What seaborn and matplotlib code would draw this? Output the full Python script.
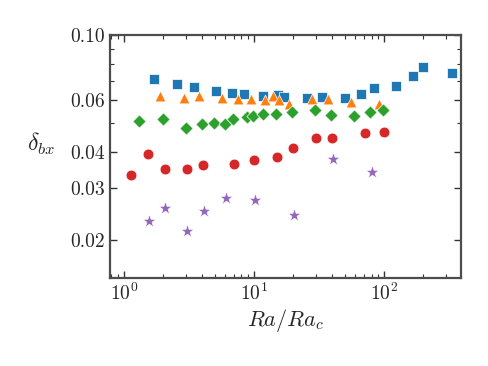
import matplotlib
matplotlib.use("Agg")
import matplotlib.pyplot as plt
import matplotlib.ticker as mticker
import seaborn as sns
import pandas as pd

# data
blue_x = [1.71, 2.57, 3.44, 5.1, 6.81, 8.42, 11.8, 15.2, 17.1, 25.3, 33.5, 50.1, 66.9, 83.3, 124, 165, 197, 329]
blue_y = [0.0708, 0.068, 0.0663, 0.0644, 0.0634, 0.0632, 0.0618, 0.0624, 0.0614, 0.0611, 0.0613, 0.0611,
          0.0632, 0.0658, 0.0671, 0.0725, 0.0778, 0.0742]

orange_x = [1.90, 2.88, 3.80, 5.67, 7.53, 9.43, 12.2, 14.1, 15.6, 18.7, 27.9, 37.3, 55.4, 92]
orange_y = [0.0618, 0.061, 0.0622, 0.0611, 0.0607, 0.0607, 0.0602, 0.062, 0.0602, 0.0583, 0.0607, 0.0607,
            0.0592, 0.058]

green_x = [1.31, 2.0, 3.0, 3.98, 4.95, 5.95, 6.93, 8.84, 9.82, 11.8, 14.8, 19.5, 29.5, 38.9, 58.8, 78, 97.7]
green_y = [0.0508, 0.0516, 0.0481, 0.0498, 0.0502, 0.0498, 0.0516, 0.0525, 0.0528, 0.0538, 0.0538, 0.0545,
           0.0555, 0.0535, 0.0529, 0.0545, 0.0554]

red_x = [1.13, 1.54, 2.06, 3.04, 4.07, 7.05, 10.0, 15.0, 19.8, 30, 39.8, 71.1, 98.8]
red_y = [0.0334, 0.0394, 0.0349, 0.035, 0.036, 0.0362, 0.0374, 0.0384, 0.0411, 0.0445, 0.0446, 0.0462, 0.0467]

purple_x = [1.56, 2.08, 3.07, 4.13, 6.12, 10.2, 20.3, 40.3, 80.9]
purple_y = [0.0232, 0.0257, 0.0214, 0.0251, 0.0277, 0.0273, 0.0244, 0.0377, 0.0341]

y_ticks = [0.02, 0.03, 0.04, 0.06, 0.10]
y_tick_labels = ["0.02", "0.03", "0.04", "0.06", "0.10"]
y_minor = [0.05, 0.07, 0.08, 0.09]

sns.set_style("ticks")
plt.rcParams.update({
    "font.family": "serif",
    "font.serif": ["cmr10"],
    "mathtext.fontset": "cm",
    "axes.formatter.use_mathtext": True,
    "axes.unicode_minus": False,
    "font.size": 14,
})

fig = plt.figure(figsize=(4.88, 3.66), dpi=100)
ax = fig.add_axes([0.225, 0.240, 0.720, 0.664])

series = [
    (blue_x, blue_y, "#1f77b4", "s", 55),
    (orange_x, orange_y, "#ff7f0e", "^", 60),
    (green_x, green_y, "#2ca02c", "D", 45),
    (red_x, red_y, "#d62728", "o", 60),
    (purple_x, purple_y, "#9467bd", "*", 105),
]
for xs, ys, color, marker, size in series:
    df = pd.DataFrame({"x": xs, "y": ys})
    sns.scatterplot(data=df, x="x", y="y", ax=ax, color=color, marker=marker, s=size,
                    edgecolor="white", linewidth=0.5, legend=False)

ax.set_xscale("log")
ax.set_yscale("log")
ax.set_xlim(0.78, 390)
ax.set_ylim(0.0148, 0.1)

ax.yaxis.set_major_locator(mticker.FixedLocator(y_ticks))
ax.yaxis.set_major_formatter(mticker.FixedFormatter(y_tick_labels))
ax.yaxis.set_minor_locator(mticker.FixedLocator(y_minor))
ax.yaxis.set_minor_formatter(mticker.NullFormatter())

ax.tick_params(which="both", direction="in", top=True, right=True, color="0.2")
ax.tick_params(which="major", length=5, width=1)
ax.tick_params(which="minor", length=3, width=0.8)
for sp in ax.spines.values():
    sp.set_color("0.3")
    sp.set_linewidth(1.6)

ax.set_xlabel(r"$Ra/Ra_c$", fontsize=16, labelpad=2)
ax.set_ylabel(r"$\delta_{bx}$", fontsize=17, rotation=0)
ax.yaxis.set_label_coords(-0.196, 0.50)

fig.savefig("out.png", dpi=100)
